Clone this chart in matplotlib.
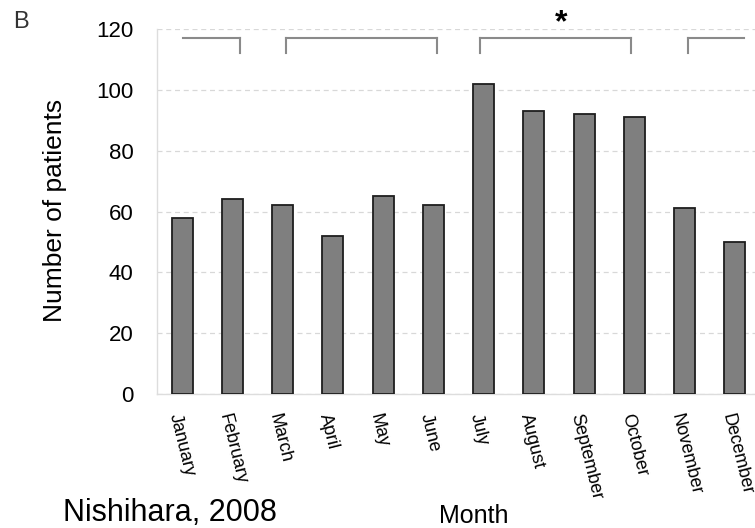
import matplotlib
matplotlib.use("Agg")
import matplotlib.pyplot as plt
import matplotlib.transforms as mtransforms

plt.rcParams['font.family'] = ['Liberation Sans', 'DejaVu Sans']

# データ
months = ["January", "February", "March", "April", "May", "June", "July",
          "August", "September", "October", "November", "December"]
patients = [58, 64, 62, 52, 65, 62, 102, 93, 92, 91, 61, 50]

# brackets: (left x, right x, left tick, right tick)
bracket_x = [(0.02, 1.15), (2.06, 5.08), (5.93, 8.94), (10.06, 11.18)]
bracket_ticks = [(False, True), (True, True), (True, True), (True, False)]
bracket_y = 117
bracket_drop = 5
star_x = 7.54
star_y = 122

fig = plt.figure(figsize=(7.55, 5.28), dpi=100)
ax = fig.add_axes([157 / 755, 1 - 394 / 528, 1 - 157 / 755, (394 - 29) / 528])

x = list(range(len(months)))
ax.bar(x, patients, width=0.42, color="#7f7f7f", edgecolor="#1e1e1e", linewidth=1.3, zorder=3)

ax.set_xlim(-0.5, 11.4)
ax.set_ylim(0, 120)
ax.set_yticks(range(0, 121, 20))
ax.yaxis.grid(True, linestyle=(0, (4, 3)), color="#d8d8d8", linewidth=0.9, zorder=0)
ax.tick_params(axis='y', length=0, pad=17, labelsize=16)
ax.tick_params(axis='x', length=0, pad=14)

for s in ["top", "right"]:
    ax.spines[s].set_visible(False)
for s in ["left", "bottom"]:
    ax.spines[s].set_color("#dddddd")
    ax.spines[s].set_linewidth(1.0)

ax.set_xticks(x)
ax.set_xticklabels(months, rotation=-76, ha="left", va="center",
                   rotation_mode="anchor", fontsize=13)
offset = mtransforms.ScaledTranslation(-6 / 72, 0, fig.dpi_scale_trans)
for lab in ax.get_xticklabels():
    lab.set_transform(lab.get_transform() + offset)

# ブラケット
for (x0, x1), (t0, t1) in zip(bracket_x, bracket_ticks):
    ax.plot([x0, x1], [bracket_y, bracket_y], color="#8a8a8a", lw=1.5, clip_on=False, zorder=4)
    if t0:
        ax.plot([x0, x0], [bracket_y, bracket_y - bracket_drop], color="#8a8a8a", lw=1.5, clip_on=False)
    if t1:
        ax.plot([x1, x1], [bracket_y, bracket_y - bracket_drop], color="#8a8a8a", lw=1.5, clip_on=False)

ax.text(star_x, star_y, "*", ha="center", va="center", fontsize=23, fontweight="bold", clip_on=False)

fig.text(55 / 755, 1 - 210 / 528, "Number of patients", rotation=90, ha="center", va="center", fontsize=19)
fig.text(474 / 755, 1 - 516 / 528, "Month", ha="center", va="center", fontsize=18)
fig.text(170 / 755, 1 - 513 / 528, "Nishihara, 2008", ha="center", va="center", fontsize=22)
fig.text(21 / 755, 1 - 22 / 528, "B", ha="center", va="center", fontsize=17, color="#333333")

fig.savefig("out.png", dpi=100)
